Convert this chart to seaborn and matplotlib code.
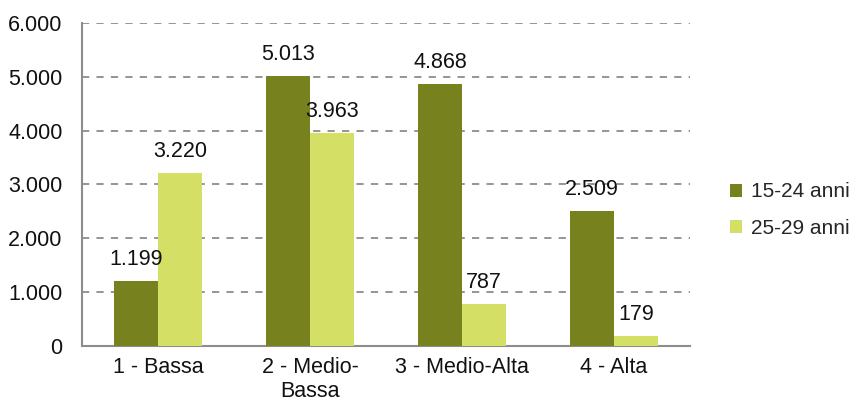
import pandas as pd
import seaborn as sns
import matplotlib.pyplot as plt
import matplotlib.ticker as mticker

# data
categories = ['1 - Bassa', '2 - Medio-\nBassa', '3 - Medio-Alta', '4 - Alta']
series_names = ['15-24 anni', '25-29 anni']
values_15_24 = [1199, 5013, 4868, 2509]
values_25_29 = [3220, 3963, 787, 179]
colors = ['#77821F', '#D4DF66']

df = pd.DataFrame({
    'categoria': categories * 2,
    'classe': [series_names[0]] * 4 + [series_names[1]] * 4,
    'valore': values_15_24 + values_25_29,
})

sns.set_style('white')
plt.rcParams['font.family'] = ['Liberation Sans', 'DejaVu Sans']

fig = plt.figure(figsize=(8.52, 4.03), dpi=100)
ax = fig.add_axes([0.0962, 0.1414, 0.7138, 0.8016])

sns.barplot(data=df, x='categoria', y='valore', hue='classe', palette=colors,
            width=0.58, saturation=1, linewidth=0, ax=ax, zorder=3)

def fmt(v, pos=None):
    return f'{int(v):,}'.replace(',', '.')

for cont in ax.containers:
    ax.bar_label(cont, labels=[fmt(b.get_height()) for b in cont],
                 padding=8, fontsize=15.5, color='#111111')

ax.set_ylim(0, 6000)
ax.set_yticks(range(0, 7000, 1000))
ax.yaxis.set_major_formatter(mticker.FuncFormatter(fmt))
ax.set_xlim(-0.5, 3.5)
ax.yaxis.grid(True, linestyle=(0, (4, 4)), color='#8C8C8C', linewidth=1.3, zorder=0)
ax.set_axisbelow(True)
ax.set_xlabel('')
ax.set_ylabel('')
ax.tick_params(axis='both', labelsize=15.5, colors='#111111', length=0)
ax.tick_params(axis='y', pad=14)
ax.tick_params(axis='x', pad=8)

for s in ['top', 'right']:
    ax.spines[s].set_visible(False)
for s in ['left', 'bottom']:
    ax.spines[s].set_color('#8C8C8C')
    ax.spines[s].set_linewidth(1.5)

ax.legend(loc='center left', bbox_to_anchor=(1.045, 0.42), frameon=False,
          fontsize=15, handlelength=0.6, handleheight=0.6, handletextpad=0.4,
          labelspacing=0.85, borderaxespad=0.2)

fig.savefig('out.png', dpi=100)
